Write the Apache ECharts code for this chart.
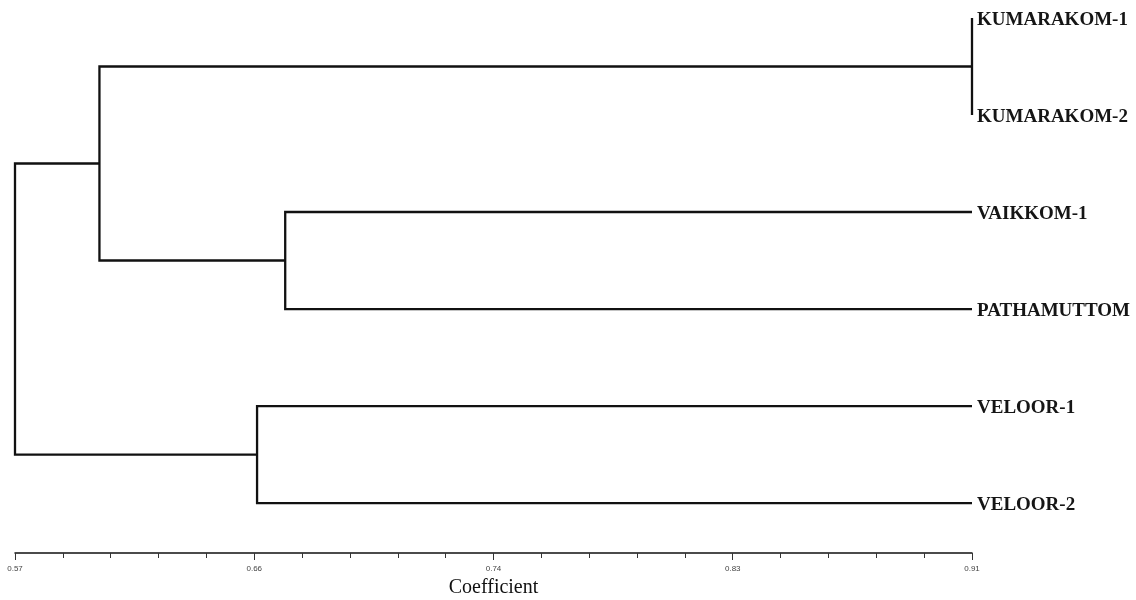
<!DOCTYPE html>
<html>
<head>
<meta charset="utf-8">
<script src="https://cdn.jsdelivr.net/npm/echarts@6/dist/echarts.min.js"></script>
<style>
  html, body { margin: 0; padding: 0; background: #fff; }
  #grafico { width: 1136px; height: 600px; }
</style>
</head>
<body>
<div id="grafico"></div>
<script>
// Hojas del dendrograma (de arriba hacia abajo)
const hojas = ['KUMARAKOM-1', 'KUMARAKOM-2', 'VAIKKOM-1', 'PATHAMUTTOM', 'VELOOR-1', 'VELOOR-2'];
const coefHoja = 0.91;

// Uniones: nodos 0-5 son hojas, 6+ son uniones en este orden
const unionIzq = [0, 2, 6, 4, 8];
const unionDer = [1, 3, 7, 5, 9];
const unionCoef = [0.91, 0.666, 0.600, 0.656, 0.57];

// Eje de coeficiente
const ejeMin = 0.57;
const ejeMax = 0.91;
const ticksMayores = [0.57, 0.655, 0.74, 0.825, 0.91];
const etiquetasTicks = ['0.57', '0.66', '0.74', '0.83', '0.91'];
const ticksMenores = [0.587, 0.604, 0.621, 0.638, 0.672, 0.689, 0.706, 0.723,
  0.757, 0.774, 0.791, 0.808, 0.842, 0.859, 0.876, 0.893];

// Posicion de cada nodo (x = coeficiente, y = indice de fila)
let nodoX = hojas.map(() => coefHoja);
let nodoY = hojas.map((h, i) => i);
let ramas = [];
unionIzq.forEach((a, k) => {
  let b = unionDer[k];
  let c = unionCoef[k];
  ramas.push({
    coords: [[nodoX[a], nodoY[a]], [c, nodoY[a]], [c, nodoY[b]], [nodoX[b], nodoY[b]]]
  });
  nodoX.push(c);
  nodoY.push((nodoY[a] + nodoY[b]) / 2);
});

const rejilla = { left: 15, right: 164, top: 0, bottom: 47, containLabel: false, outerBoundsMode: 'none' };

let grafico = echarts.init(document.getElementById('grafico'));
grafico.setOption({
  animation: false,
  backgroundColor: '#fff',
  grid: [rejilla, Object.assign({}, rejilla)],
  xAxis: [
    {
      type: 'value',
      gridIndex: 0,
      position: 'bottom',
      min: ejeMin,
      max: ejeMax,
      name: 'Coefficient',
      nameLocation: 'middle',
      nameGap: 25,
      nameTextStyle: { fontFamily: 'Liberation Serif', fontSize: 20, color: '#111' },
      splitLine: { show: false },
      axisLine: { onZero: false, lineStyle: { color: '#111', width: 1.5 } },
      axisTick: { customValues: ticksMayores, length: 7, lineStyle: { color: '#333', width: 1 } },
      axisLabel: {
        customValues: ticksMayores,
        margin: 12,
        fontFamily: 'Liberation Sans',
        fontSize: 8,
        color: '#444',
        formatter: v => etiquetasTicks[ticksMayores.indexOf(v)]
      }
    },
    {
      // Solo las marcas menores, en una rejilla superpuesta
      type: 'value',
      gridIndex: 1,
      position: 'bottom',
      min: ejeMin,
      max: ejeMax,
      splitLine: { show: false },
      axisLine: { show: false, onZero: false },
      axisTick: { customValues: ticksMenores, length: 5, lineStyle: { color: '#333', width: 1 } },
      axisLabel: { show: false }
    }
  ],
  yAxis: [
    {
      type: 'value',
      gridIndex: 0,
      inverse: true,
      position: 'right',
      min: -0.1856,
      max: 5.515,
      splitLine: { show: false },
      axisLine: { show: false },
      axisTick: { show: false },
      axisLabel: {
        customValues: [0, 1, 2, 3, 4, 5],
        margin: 5,
        align: 'left',
        color: '#151515',
        formatter: v => '{h|' + hojas[v] + '}',
        rich: {
          h: {
            fontFamily: 'Liberation Serif',
            fontWeight: 'bold',
            fontSize: 19,
            color: '#151515',
            padding: [5, 0, 0, 0]
          }
        }
      }
    },
    {
      type: 'value',
      gridIndex: 1,
      show: false
    }
  ],
  series: [{
    type: 'lines',
    coordinateSystem: 'cartesian2d',
    xAxisIndex: 0,
    yAxisIndex: 0,
    polyline: true,
    clip: false,
    silent: true,
    lineStyle: { color: '#111', width: 2.3, opacity: 1 },
    data: ramas
  }]
});
</script>
</body>
</html>
